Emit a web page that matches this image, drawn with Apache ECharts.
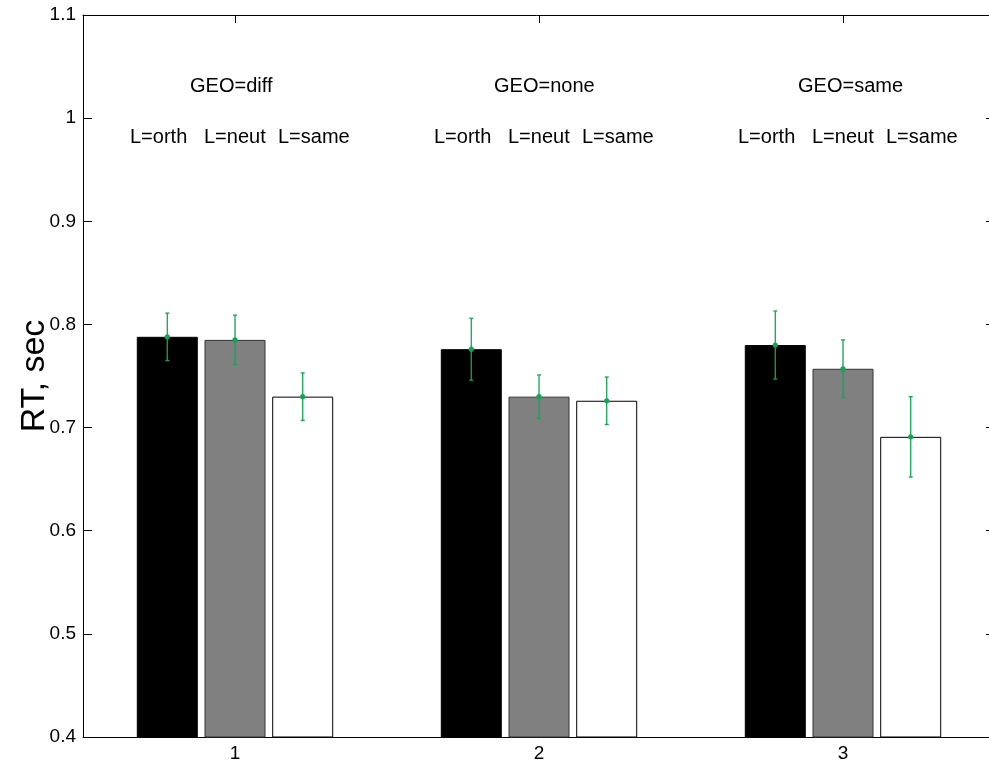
<!DOCTYPE html>
<html>
<head>
<meta charset="utf-8">
<script src="https://cdn.jsdelivr.net/npm/echarts@6/dist/echarts.min.js"></script>
<style>html,body{margin:0;padding:0;background:#fff}#c{width:989px;height:763px}</style>
</head>
<body>
<div id="c"></div>
<script>
// ---- data ----
const categories = ['1', '2', '3'];
const groupNames = ['GEO=diff', 'GEO=none', 'GEO=same'];
const levelNames = ['L=orth', 'L=neut', 'L=same'];
const meanOrth = [0.788, 0.776, 0.780];
const meanNeut = [0.785, 0.730, 0.757];
const meanSame = [0.730, 0.726, 0.691];
const errOrth = [0.023, 0.030, 0.033];
const errNeut = [0.024, 0.021, 0.028];
const errSame = [0.023, 0.023, 0.039];
const yTicks = [0.4, 0.5, 0.6, 0.7, 0.8, 0.9, 1, 1.1];

// ---- style / layout ----
const FONT = 'Liberation Sans, Arial, Helvetica, sans-serif';
const BAR_W = 61, BAR_GAP = 0.11;
const ERR_COLOR = '#14a456';
const barFills = ['#000000', '#808080', '#ffffff'];
const barBorders = ['#000000', '#333333', '#000000'];
const GEO_Y = 1.031, L_Y = 0.981;
const GEO_DX = -45;
const L_DX = [-105, -31, 43];

const means = [meanOrth, meanNeut, meanSame];
const errs = [errOrth, errNeut, errSame];

const chart = echarts.init(document.getElementById('c'), null, {renderer: 'canvas'});

const barSeries = means.map((m, i) => ({
  type: 'bar',
  name: levelNames[i],
  data: m,
  barWidth: BAR_W,
  barGap: (BAR_GAP * 100) + '%',
  itemStyle: {color: barFills[i], borderColor: barBorders[i], borderWidth: 1},
  emphasis: {disabled: true},
  animation: false,
  z: 2
}));

const errData = [];
means.forEach((m, i) => m.forEach((v, c) => errData.push([c, v, v - errs[i][c], v + errs[i][c], i])));

const errSeries = {
  type: 'custom',
  data: errData,
  z: 5,
  animation: false,
  silent: true,
  renderItem: function (params, api) {
    const c = api.value(0), bi = api.value(4);
    const dx = (bi - 1) * BAR_W * (1 + BAR_GAP);
    const pm = api.coord([c, api.value(1)]);
    const pl = api.coord([c, api.value(2)]);
    const ph = api.coord([c, api.value(3)]);
    const x = pm[0] + dx;
    const st = {stroke: ERR_COLOR, lineWidth: 1.3};
    return {
      type: 'group',
      children: [
        {type: 'line', shape: {x1: x, y1: pl[1], x2: x, y2: ph[1]}, style: st},
        {type: 'line', shape: {x1: x - 2, y1: pl[1], x2: x + 2, y2: pl[1]}, style: st},
        {type: 'line', shape: {x1: x - 2, y1: ph[1], x2: x + 2, y2: ph[1]}, style: st},
        {type: 'circle', shape: {cx: x, cy: pm[1], r: 2.6}, style: {fill: ERR_COLOR}}
      ]
    };
  }
};

const annSeries = {
  type: 'custom',
  data: categories.map((c, i) => [i]),
  z: 6,
  animation: false,
  silent: true,
  renderItem: function (params, api) {
    const c = api.value(0);
    const pg = api.coord([c, GEO_Y]);
    const pl = api.coord([c, L_Y]);
    const ts = {fill: '#000', fontSize: 20, fontFamily: FONT, textAlign: 'left', textVerticalAlign: 'middle'};
    const children = [{type: 'text', x: pg[0] + GEO_DX, y: pg[1], style: Object.assign({text: groupNames[c]}, ts)}];
    levelNames.forEach((n, k) => {
      children.push({type: 'text', x: pl[0] + L_DX[k], y: pl[1], style: Object.assign({text: n}, ts)});
    });
    return {type: 'group', children: children};
  }
};

const yMin = yTicks[0], yMax = yTicks[yTicks.length - 1];
const axisLineStyle = {color: '#000', width: 1};

chart.setOption({
  backgroundColor: '#fff',
  animation: false,
  grid: {left: 83, top: 15, width: 912, height: 722, containLabel: false, outerBoundsMode: 'none'},
  xAxis: [
    {
      type: 'category', data: categories, position: 'bottom',
      axisLine: {lineStyle: axisLineStyle},
      axisTick: {show: false},
      axisLabel: {color: '#000', fontSize: 19, fontFamily: FONT, margin: 7},
      splitLine: {show: false}
    },
    {
      type: 'category', data: categories, position: 'top',
      axisLine: {lineStyle: axisLineStyle},
      axisTick: {show: true, inside: true, length: 8, alignWithLabel: true, lineStyle: axisLineStyle},
      axisLabel: {show: false},
      splitLine: {show: false}
    }
  ],
  yAxis: [
    {
      type: 'value', min: yMin, max: yMax, interval: 0.1, position: 'left',
      name: 'RT, sec', nameLocation: 'middle', nameGap: 31, nameRotate: 90, nameMoveOverlap: false,
      nameTextStyle: {color: '#000', fontSize: 34, fontFamily: FONT},
      axisLine: {show: true, lineStyle: axisLineStyle},
      axisTick: {show: true, inside: true, length: 9, lineStyle: axisLineStyle},
      axisLabel: {color: '#000', fontSize: 19, fontFamily: FONT, margin: 7,
        formatter: v => String(Number(v.toFixed(1)))},
      splitLine: {show: false}
    },
    {
      type: 'value', min: yMin, max: yMax, interval: 0.1, position: 'right',
      axisLine: {show: true, lineStyle: axisLineStyle},
      axisTick: {show: true, inside: true, length: 9, lineStyle: axisLineStyle},
      axisLabel: {show: false},
      splitLine: {show: false}
    }
  ],
  series: barSeries.concat([errSeries, annSeries])
});
</script>
</body>
</html>
